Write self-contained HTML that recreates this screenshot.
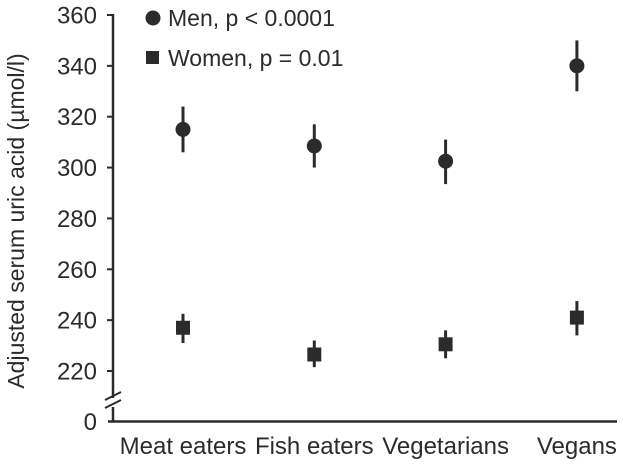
<!DOCTYPE html>
<html><head><meta charset="utf-8"><style>
body{margin:0;background:#fff;}
svg{display:block;font-family:"Liberation Sans",sans-serif;}
</style></head><body>
<svg id="c" width="623" height="465"></svg>
<script>
const categories=["Meat eaters","Fish eaters","Vegetarians","Vegans"];
const menMean=[315,308.5,302.5,340];
const menLow=[306,300,293.5,330];
const menHigh=[324,317,311,350];
const womenMean=[237,226.5,230.5,241];
const womenLow=[231,221.5,225,234];
const womenHigh=[242.5,232,236,247.5];
const yTicks=[220,240,260,280,300,320,340,360];
const ns="http://www.w3.org/2000/svg";
const svg=document.getElementById('c');
const col="#2b2b2b";
function y(v){return 15+(360-v)*(356/140);}
function x(i){return 183+i*131.3;}
function mk(t,a,p){const e=document.createElementNS(ns,t);for(const k in a)e.setAttribute(k,a[k]);(p||svg).appendChild(e);return e;}
const AX=113;
let e;
e=mk('line',{x1:AX,y1:14,x2:AX,y2:398,stroke:col,'stroke-width':2.5});


e=mk('line',{x1:AX,y1:407,x2:AX,y2:422,stroke:col,'stroke-width':2.5});


e=mk('path',{d:`M${AX-8},${400} L${AX+8},${392} M${AX-8},${408} L${AX+8},${400}`,stroke:col,'stroke-width':2,fill:'none'});


e=mk('line',{x1:AX-5,y1:421.5,x2:617,y2:421.5,stroke:col,'stroke-width':2.5});


e=mk('text',{x:97,y:430,'text-anchor':'end','font-size':24,fill:col});e.textContent='0';


yTicks.forEach(v=>{
 mk('line',{x1:AX-6,y1:y(v),x2:AX,y2:y(v),stroke:col,'stroke-width':2});
 const t=mk('text',{x:97,y:y(v)+8.5,'text-anchor':'end','font-size':24,fill:col});t.textContent=v;
 
 
});
categories.forEach((c,i)=>{
 const t=mk('text',{x:x(i),y:454,'text-anchor':'middle','font-size':24,fill:col});t.textContent=c;
 
 
 let l=mk('line',{x1:x(i),y1:y(menHigh[i]),x2:x(i),y2:y(menLow[i]),stroke:col,'stroke-width':3});
 
 
 let p=mk('circle',{cx:x(i),cy:y(menMean[i]),r:7.5,fill:col});
 
 
 l=mk('line',{x1:x(i),y1:y(womenHigh[i]),x2:x(i),y2:y(womenLow[i]),stroke:col,'stroke-width':3});
 
 
 p=mk('rect',{x:x(i)-7,y:y(womenMean[i])-7,width:14,height:14,fill:col});
 
 
});
e=mk('text',{transform:'translate(24,221) rotate(-90)','text-anchor':'middle','font-size':23,fill:col});
e.textContent='Adjusted serum uric acid (\u00b5mol/l)';


e=mk('circle',{cx:153,cy:18,r:7.5,fill:col});


e=mk('text',{x:168,y:26,'font-size':23,fill:col});e.textContent='Men, p < 0.0001';


e=mk('rect',{x:146,y:51,width:13,height:13,fill:col});


e=mk('text',{x:168,y:66,'font-size':23,fill:col});e.textContent='Women, p = 0.01';


</script>
</body></html>
